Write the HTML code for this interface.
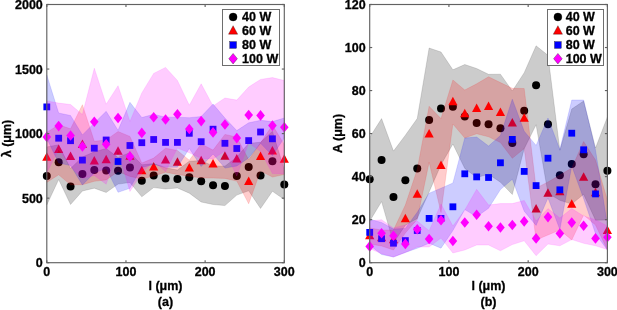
<!DOCTYPE html>
<html><head><meta charset="utf-8"><style>html,body{margin:0;padding:0;background:#fff;width:617px;height:310px;overflow:hidden}svg{display:block;will-change:transform}</style></head><body>
<svg width="617" height="310" viewBox="0 0 617 310">
<rect width="617" height="310" fill="#fff"/>
<defs><clipPath id="ca"><rect x="46.8" y="4.5" width="237.5" height="258.2"/></clipPath><clipPath id="cb"><rect x="369.7" y="4.5" width="237.7" height="258.2"/></clipPath></defs>
<g><polygon points="46.80,146.90 58.67,144.80 70.55,168.50 82.42,157.00 94.30,151.80 106.17,148.50 118.05,157.50 129.93,152.50 141.80,164.80 153.68,163.60 165.55,167.80 177.43,170.00 189.30,161.20 201.18,160.60 213.05,165.90 224.93,166.20 236.80,157.10 248.68,143.20 260.55,142.30 272.43,131.30 284.30,169.50 284.30,199.50 272.43,191.30 260.55,208.50 248.68,190.80 236.80,195.10 224.93,205.60 213.05,204.50 201.18,202.00 189.30,193.20 177.43,188.00 165.55,189.00 153.68,187.60 141.80,196.80 129.93,182.50 118.05,184.10 106.17,192.50 94.30,188.20 82.42,191.00 70.55,204.50 58.67,179.60 46.80,204.90" fill="rgb(0,0,0)" fill-opacity="0.200" stroke="rgb(0,0,0)" stroke-opacity="0.12" stroke-width="1" stroke-linejoin="round"/>
<circle cx="46.80" cy="175.90" r="4" fill="#000"/>
<circle cx="58.67" cy="162.20" r="4" fill="#000"/>
<circle cx="70.55" cy="186.50" r="4" fill="#000"/>
<circle cx="82.42" cy="174.00" r="4" fill="#000"/>
<circle cx="94.30" cy="170.00" r="4" fill="#000"/>
<circle cx="106.17" cy="170.50" r="4" fill="#000"/>
<circle cx="118.05" cy="170.80" r="4" fill="#000"/>
<circle cx="129.93" cy="167.50" r="4" fill="#000"/>
<circle cx="141.80" cy="180.80" r="4" fill="#000"/>
<circle cx="153.68" cy="175.60" r="4" fill="#000"/>
<circle cx="165.55" cy="178.40" r="4" fill="#000"/>
<circle cx="177.43" cy="179.00" r="4" fill="#000"/>
<circle cx="189.30" cy="177.20" r="4" fill="#000"/>
<circle cx="201.18" cy="181.30" r="4" fill="#000"/>
<circle cx="213.05" cy="185.20" r="4" fill="#000"/>
<circle cx="224.93" cy="185.90" r="4" fill="#000"/>
<circle cx="236.80" cy="176.10" r="4" fill="#000"/>
<circle cx="248.68" cy="167.00" r="4" fill="#000"/>
<circle cx="260.55" cy="175.40" r="4" fill="#000"/>
<circle cx="272.43" cy="161.30" r="4" fill="#000"/>
<circle cx="284.30" cy="184.50" r="4" fill="#000"/>
<polygon points="46.80,132.40 58.67,124.80 70.55,128.80 82.42,104.70 94.30,141.30 106.17,139.90 118.05,131.50 129.93,136.40 141.80,163.00 153.68,158.10 165.55,148.20 177.43,150.50 189.30,160.20 201.18,143.90 213.05,150.10 224.93,134.40 236.80,137.10 248.68,159.80 260.55,142.80 272.43,125.10 284.30,144.50 284.30,174.50 272.43,177.10 260.55,170.80 248.68,203.80 236.80,181.10 224.93,178.40 213.05,178.10 201.18,177.90 189.30,176.20 177.43,174.50 165.55,172.20 153.68,176.10 141.80,179.00 129.93,176.40 118.05,171.50 106.17,179.90 94.30,181.30 82.42,184.70 70.55,184.80 58.67,174.80 46.80,182.40" fill="rgb(255,0,0)" fill-opacity="0.200" stroke="rgb(255,0,0)" stroke-opacity="0.12" stroke-width="1" stroke-linejoin="round"/>
<polygon points="46.80,152.20 42.20,160.70 51.40,160.70" fill="#f00"/>
<polygon points="58.67,144.60 54.07,153.10 63.27,153.10" fill="#f00"/>
<polygon points="70.55,151.60 65.95,160.10 75.15,160.10" fill="#f00"/>
<polygon points="82.42,139.50 77.83,148.00 87.02,148.00" fill="#f00"/>
<polygon points="94.30,156.10 89.70,164.60 98.90,164.60" fill="#f00"/>
<polygon points="106.17,154.70 101.58,163.20 110.77,163.20" fill="#f00"/>
<polygon points="118.05,146.30 113.45,154.80 122.65,154.80" fill="#f00"/>
<polygon points="129.93,151.20 125.33,159.70 134.53,159.70" fill="#f00"/>
<polygon points="141.80,165.80 137.20,174.30 146.40,174.30" fill="#f00"/>
<polygon points="153.68,161.90 149.08,170.40 158.28,170.40" fill="#f00"/>
<polygon points="165.55,155.00 160.95,163.50 170.15,163.50" fill="#f00"/>
<polygon points="177.43,157.30 172.83,165.80 182.03,165.80" fill="#f00"/>
<polygon points="189.30,163.00 184.70,171.50 193.90,171.50" fill="#f00"/>
<polygon points="201.18,155.70 196.58,164.20 205.78,164.20" fill="#f00"/>
<polygon points="213.05,158.90 208.45,167.40 217.65,167.40" fill="#f00"/>
<polygon points="224.93,151.20 220.33,159.70 229.53,159.70" fill="#f00"/>
<polygon points="236.80,153.90 232.20,162.40 241.40,162.40" fill="#f00"/>
<polygon points="248.68,176.60 244.08,185.10 253.28,185.10" fill="#f00"/>
<polygon points="260.55,151.60 255.95,160.10 265.15,160.10" fill="#f00"/>
<polygon points="272.43,145.90 267.82,154.40 277.03,154.40" fill="#f00"/>
<polygon points="284.30,154.30 279.70,162.80 288.90,162.80" fill="#f00"/>
<polygon points="46.80,75.00 58.67,113.00 70.55,115.50 82.42,134.90 94.30,123.00 106.17,111.30 118.05,130.30 129.93,102.30 141.80,117.50 153.68,114.30 165.55,117.20 177.43,117.20 189.30,117.70 201.18,116.50 213.05,104.00 224.93,118.10 236.80,130.60 248.68,122.80 260.55,120.30 272.43,121.60 284.30,118.00 284.30,138.00 272.43,155.60 260.55,143.30 248.68,158.00 236.80,166.00 224.93,168.10 213.05,154.00 201.18,166.50 189.30,148.50 177.43,167.20 165.55,167.20 153.68,164.30 141.80,167.50 129.93,188.30 118.05,192.30 106.17,168.30 94.30,173.00 82.42,184.90 70.55,165.50 58.67,163.00 46.80,138.40" fill="rgb(0,0,255)" fill-opacity="0.200" stroke="rgb(0,0,255)" stroke-opacity="0.12" stroke-width="1" stroke-linejoin="round"/>
<rect x="43.40" y="103.50" width="6.8" height="6.8" fill="#00f"/>
<rect x="55.27" y="134.80" width="6.8" height="6.8" fill="#00f"/>
<rect x="67.15" y="137.30" width="6.8" height="6.8" fill="#00f"/>
<rect x="79.02" y="156.70" width="6.8" height="6.8" fill="#00f"/>
<rect x="90.90" y="144.80" width="6.8" height="6.8" fill="#00f"/>
<rect x="102.77" y="136.60" width="6.8" height="6.8" fill="#00f"/>
<rect x="114.65" y="158.10" width="6.8" height="6.8" fill="#00f"/>
<rect x="126.53" y="142.10" width="6.8" height="6.8" fill="#00f"/>
<rect x="138.40" y="139.30" width="6.8" height="6.8" fill="#00f"/>
<rect x="150.28" y="136.10" width="6.8" height="6.8" fill="#00f"/>
<rect x="162.15" y="139.00" width="6.8" height="6.8" fill="#00f"/>
<rect x="174.03" y="139.00" width="6.8" height="6.8" fill="#00f"/>
<rect x="185.90" y="129.90" width="6.8" height="6.8" fill="#00f"/>
<rect x="197.78" y="138.30" width="6.8" height="6.8" fill="#00f"/>
<rect x="209.65" y="125.80" width="6.8" height="6.8" fill="#00f"/>
<rect x="221.53" y="139.90" width="6.8" height="6.8" fill="#00f"/>
<rect x="233.40" y="145.10" width="6.8" height="6.8" fill="#00f"/>
<rect x="245.28" y="137.20" width="6.8" height="6.8" fill="#00f"/>
<rect x="257.15" y="128.60" width="6.8" height="6.8" fill="#00f"/>
<rect x="269.03" y="135.40" width="6.8" height="6.8" fill="#00f"/>
<polygon points="46.80,100.90 58.67,103.10 70.55,104.50 82.42,114.50 94.30,68.20 106.17,104.20 118.05,85.70 129.93,121.50 141.80,92.90 153.68,73.40 165.55,67.40 177.43,80.50 189.30,105.20 201.18,83.80 213.05,105.90 224.93,98.00 236.80,100.10 248.68,87.00 260.55,79.40 272.43,77.60 284.30,80.50 284.30,173.90 272.43,173.60 260.55,151.40 248.68,143.00 236.80,176.10 224.93,151.00 213.05,158.90 201.18,158.40 189.30,152.80 177.43,148.10 165.55,171.60 153.68,161.20 141.80,172.90 129.93,191.50 118.05,150.30 106.17,184.20 94.30,175.40 82.42,178.50 70.55,166.50 58.67,149.10 46.80,172.90" fill="rgb(255,0,255)" fill-opacity="0.200" stroke="rgb(255,0,255)" stroke-opacity="0.12" stroke-width="1" stroke-linejoin="round"/>
<polygon points="46.80,131.60 51.10,136.90 46.80,142.20 42.50,136.90" fill="#f0f"/>
<polygon points="58.67,120.80 62.97,126.10 58.67,131.40 54.38,126.10" fill="#f0f"/>
<polygon points="70.55,130.20 74.85,135.50 70.55,140.80 66.25,135.50" fill="#f0f"/>
<polygon points="82.42,141.20 86.72,146.50 82.42,151.80 78.12,146.50" fill="#f0f"/>
<polygon points="94.30,116.50 98.60,121.80 94.30,127.10 90.00,121.80" fill="#f0f"/>
<polygon points="106.17,138.90 110.47,144.20 106.17,149.50 101.88,144.20" fill="#f0f"/>
<polygon points="118.05,112.70 122.35,118.00 118.05,123.30 113.75,118.00" fill="#f0f"/>
<polygon points="129.93,151.20 134.23,156.50 129.93,161.80 125.63,156.50" fill="#f0f"/>
<polygon points="141.80,127.60 146.10,132.90 141.80,138.20 137.50,132.90" fill="#f0f"/>
<polygon points="153.68,112.00 157.98,117.30 153.68,122.60 149.38,117.30" fill="#f0f"/>
<polygon points="165.55,114.20 169.85,119.50 165.55,124.80 161.25,119.50" fill="#f0f"/>
<polygon points="177.43,109.00 181.73,114.30 177.43,119.60 173.12,114.30" fill="#f0f"/>
<polygon points="189.30,123.70 193.60,129.00 189.30,134.30 185.00,129.00" fill="#f0f"/>
<polygon points="201.18,115.80 205.48,121.10 201.18,126.40 196.88,121.10" fill="#f0f"/>
<polygon points="213.05,127.10 217.35,132.40 213.05,137.70 208.75,132.40" fill="#f0f"/>
<polygon points="224.93,119.20 229.23,124.50 224.93,129.80 220.62,124.50" fill="#f0f"/>
<polygon points="236.80,132.80 241.10,138.10 236.80,143.40 232.50,138.10" fill="#f0f"/>
<polygon points="248.68,109.70 252.98,115.00 248.68,120.30 244.38,115.00" fill="#f0f"/>
<polygon points="260.55,110.10 264.85,115.40 260.55,120.70 256.25,115.40" fill="#f0f"/>
<polygon points="272.43,120.30 276.73,125.60 272.43,130.90 268.12,125.60" fill="#f0f"/>
<polygon points="284.30,121.90 288.60,127.20 284.30,132.50 280.00,127.20" fill="#f0f"/></g>
<g><polygon points="369.70,137.20 381.58,118.60 393.47,151.10 405.36,135.20 417.24,118.50 429.12,48.00 441.01,52.00 452.89,69.80 464.78,64.50 476.66,68.50 488.55,74.30 500.43,74.20 512.32,91.00 524.20,72.70 536.09,45.80 547.98,55.30 559.86,150.30 571.75,109.00 583.63,101.00 595.51,148.00 607.40,117.00 607.40,220.00 595.51,220.20 583.63,194.30 571.75,204.10 559.86,200.30 547.98,193.30 536.09,124.80 524.20,148.70 512.32,194.50 500.43,182.20 488.55,174.30 476.66,177.50 464.78,168.50 452.89,144.00 441.01,164.80 429.12,192.00 417.24,218.50 405.36,225.20 393.47,243.10 381.58,201.60 369.70,221.20" fill="rgb(0,0,0)" fill-opacity="0.200" stroke="rgb(0,0,0)" stroke-opacity="0.12" stroke-width="1" stroke-linejoin="round"/>
<circle cx="369.70" cy="179.20" r="4" fill="#000"/>
<circle cx="381.58" cy="160.10" r="4" fill="#000"/>
<circle cx="393.47" cy="197.10" r="4" fill="#000"/>
<circle cx="405.36" cy="180.20" r="4" fill="#000"/>
<circle cx="417.24" cy="168.50" r="4" fill="#000"/>
<circle cx="429.12" cy="120.00" r="4" fill="#000"/>
<circle cx="441.01" cy="108.40" r="4" fill="#000"/>
<circle cx="452.89" cy="106.80" r="4" fill="#000"/>
<circle cx="464.78" cy="116.50" r="4" fill="#000"/>
<circle cx="476.66" cy="123.00" r="4" fill="#000"/>
<circle cx="488.55" cy="124.30" r="4" fill="#000"/>
<circle cx="500.43" cy="128.20" r="4" fill="#000"/>
<circle cx="512.32" cy="143.00" r="4" fill="#000"/>
<circle cx="524.20" cy="110.70" r="4" fill="#000"/>
<circle cx="536.09" cy="85.30" r="4" fill="#000"/>
<circle cx="547.98" cy="124.30" r="4" fill="#000"/>
<circle cx="559.86" cy="175.30" r="4" fill="#000"/>
<circle cx="571.75" cy="164.10" r="4" fill="#000"/>
<circle cx="583.63" cy="154.30" r="4" fill="#000"/>
<circle cx="595.51" cy="184.20" r="4" fill="#000"/>
<circle cx="607.40" cy="170.80" r="4" fill="#000"/>
<polygon points="369.70,228.00 381.58,230.00 393.47,230.00 405.36,205.00 417.24,169.40 429.12,106.30 441.01,118.60 452.89,80.00 464.78,90.00 476.66,83.80 488.55,76.80 500.43,82.60 512.32,88.30 524.20,88.50 536.09,188.00 547.98,182.00 559.86,175.00 571.75,168.00 583.63,141.50 595.51,160.00 607.40,200.00 607.40,250.00 595.51,225.00 583.63,215.00 571.75,240.00 559.86,230.00 547.98,235.00 536.09,240.00 524.20,148.50 512.32,158.30 500.43,142.60 488.55,136.80 476.66,133.80 464.78,138.00 452.89,124.00 441.01,212.60 429.12,162.30 417.24,219.40 405.36,233.00 393.47,250.00 381.58,246.00 369.70,244.00" fill="rgb(255,0,0)" fill-opacity="0.200" stroke="rgb(255,0,0)" stroke-opacity="0.12" stroke-width="1" stroke-linejoin="round"/>
<polygon points="369.70,230.80 365.10,239.30 374.30,239.30" fill="#f00"/>
<polygon points="381.58,232.80 376.98,241.30 386.19,241.30" fill="#f00"/>
<polygon points="393.47,234.80 388.87,243.30 398.07,243.30" fill="#f00"/>
<polygon points="405.36,213.80 400.75,222.30 409.96,222.30" fill="#f00"/>
<polygon points="417.24,189.20 412.64,197.70 421.84,197.70" fill="#f00"/>
<polygon points="429.12,129.10 424.52,137.60 433.73,137.60" fill="#f00"/>
<polygon points="441.01,160.40 436.41,168.90 445.61,168.90" fill="#f00"/>
<polygon points="452.89,96.80 448.29,105.30 457.50,105.30" fill="#f00"/>
<polygon points="464.78,108.80 460.18,117.30 469.38,117.30" fill="#f00"/>
<polygon points="476.66,103.60 472.06,112.10 481.26,112.10" fill="#f00"/>
<polygon points="488.55,101.60 483.95,110.10 493.15,110.10" fill="#f00"/>
<polygon points="500.43,107.40 495.83,115.90 505.03,115.90" fill="#f00"/>
<polygon points="512.32,118.10 507.72,126.60 516.92,126.60" fill="#f00"/>
<polygon points="524.20,113.30 519.60,121.80 528.80,121.80" fill="#f00"/>
<polygon points="536.09,204.10 531.49,212.60 540.69,212.60" fill="#f00"/>
<polygon points="547.98,188.30 543.38,196.80 552.58,196.80" fill="#f00"/>
<polygon points="559.86,186.80 555.26,195.30 564.46,195.30" fill="#f00"/>
<polygon points="571.75,199.30 567.14,207.80 576.35,207.80" fill="#f00"/>
<polygon points="583.63,172.20 579.03,180.70 588.23,180.70" fill="#f00"/>
<polygon points="595.51,187.80 590.91,196.30 600.12,196.30" fill="#f00"/>
<polygon points="607.40,225.40 602.80,233.90 612.00,233.90" fill="#f00"/>
<polygon points="369.70,219.20 381.58,222.50 393.47,229.00 405.36,228.40 417.24,212.30 429.12,193.20 441.01,188.20 452.89,183.00 464.78,138.00 476.66,137.00 488.55,146.00 500.43,135.50 512.32,99.20 524.20,131.20 536.09,145.40 547.98,118.00 559.86,149.60 571.75,100.00 583.63,100.00 595.51,150.00 607.40,225.00 607.40,250.00 595.51,233.70 583.63,198.60 571.75,166.00 559.86,229.60 547.98,198.00 536.09,225.40 524.20,211.20 512.32,179.20 500.43,189.60 488.55,208.30 476.66,216.70 464.78,209.60 452.89,230.60 441.01,248.20 429.12,243.20 417.24,248.30 405.36,252.40 393.47,257.00 381.58,254.50 369.70,245.20" fill="rgb(0,0,255)" fill-opacity="0.200" stroke="rgb(0,0,255)" stroke-opacity="0.12" stroke-width="1" stroke-linejoin="round"/>
<rect x="366.30" y="229.00" width="6.8" height="6.8" fill="#00f"/>
<rect x="378.19" y="235.30" width="6.8" height="6.8" fill="#00f"/>
<rect x="390.07" y="239.80" width="6.8" height="6.8" fill="#00f"/>
<rect x="401.96" y="237.20" width="6.8" height="6.8" fill="#00f"/>
<rect x="413.84" y="227.10" width="6.8" height="6.8" fill="#00f"/>
<rect x="425.73" y="215.00" width="6.8" height="6.8" fill="#00f"/>
<rect x="437.61" y="215.00" width="6.8" height="6.8" fill="#00f"/>
<rect x="449.50" y="203.40" width="6.8" height="6.8" fill="#00f"/>
<rect x="461.38" y="170.40" width="6.8" height="6.8" fill="#00f"/>
<rect x="473.26" y="173.50" width="6.8" height="6.8" fill="#00f"/>
<rect x="485.15" y="174.10" width="6.8" height="6.8" fill="#00f"/>
<rect x="497.03" y="159.40" width="6.8" height="6.8" fill="#00f"/>
<rect x="508.92" y="136.00" width="6.8" height="6.8" fill="#00f"/>
<rect x="520.80" y="168.00" width="6.8" height="6.8" fill="#00f"/>
<rect x="532.69" y="182.20" width="6.8" height="6.8" fill="#00f"/>
<rect x="544.58" y="154.80" width="6.8" height="6.8" fill="#00f"/>
<rect x="556.46" y="186.40" width="6.8" height="6.8" fill="#00f"/>
<rect x="568.35" y="129.80" width="6.8" height="6.8" fill="#00f"/>
<rect x="580.23" y="146.40" width="6.8" height="6.8" fill="#00f"/>
<rect x="592.12" y="190.50" width="6.8" height="6.8" fill="#00f"/>
<polygon points="369.70,221.00 381.58,219.70 393.47,228.00 405.36,225.00 417.24,221.00 429.12,230.70 441.01,204.00 452.89,226.00 464.78,210.00 476.66,189.30 488.55,205.00 500.43,203.60 512.32,203.60 524.20,200.40 536.09,221.00 547.98,208.60 559.86,218.00 571.75,208.60 583.63,216.00 595.51,219.70 607.40,226.00 607.40,249.50 595.51,245.80 583.63,243.30 571.75,239.60 559.86,245.80 547.98,244.00 536.09,255.70 524.20,240.80 512.32,244.60 500.43,250.80 488.55,245.00 476.66,245.00 464.78,250.00 452.89,253.00 441.01,238.00 429.12,247.00 417.24,247.00 405.36,252.60 393.47,257.00 381.58,253.70 369.70,248.50" fill="rgb(255,0,255)" fill-opacity="0.200" stroke="rgb(255,0,255)" stroke-opacity="0.12" stroke-width="1" stroke-linejoin="round"/>
<polygon points="369.70,241.10 374.00,246.40 369.70,251.70 365.40,246.40" fill="#f0f"/>
<polygon points="381.58,227.90 385.88,233.20 381.58,238.50 377.28,233.20" fill="#f0f"/>
<polygon points="393.47,230.40 397.77,235.70 393.47,241.00 389.17,235.70" fill="#f0f"/>
<polygon points="405.36,238.60 409.66,243.90 405.36,249.20 401.06,243.90" fill="#f0f"/>
<polygon points="417.24,224.00 421.54,229.30 417.24,234.60 412.94,229.30" fill="#f0f"/>
<polygon points="429.12,233.70 433.43,239.00 429.12,244.30 424.82,239.00" fill="#f0f"/>
<polygon points="441.01,214.90 445.31,220.20 441.01,225.50 436.71,220.20" fill="#f0f"/>
<polygon points="452.89,235.70 457.19,241.00 452.89,246.30 448.59,241.00" fill="#f0f"/>
<polygon points="464.78,217.20 469.08,222.50 464.78,227.80 460.48,222.50" fill="#f0f"/>
<polygon points="476.66,209.40 480.96,214.70 476.66,220.00 472.36,214.70" fill="#f0f"/>
<polygon points="488.55,221.00 492.85,226.30 488.55,231.60 484.25,226.30" fill="#f0f"/>
<polygon points="500.43,222.20 504.73,227.50 500.43,232.80 496.13,227.50" fill="#f0f"/>
<polygon points="512.32,219.70 516.62,225.00 512.32,230.30 508.02,225.00" fill="#f0f"/>
<polygon points="524.20,216.10 528.50,221.40 524.20,226.70 519.90,221.40" fill="#f0f"/>
<polygon points="536.09,233.10 540.39,238.40 536.09,243.70 531.79,238.40" fill="#f0f"/>
<polygon points="547.98,211.80 552.27,217.10 547.98,222.40 543.68,217.10" fill="#f0f"/>
<polygon points="559.86,228.20 564.16,233.50 559.86,238.80 555.56,233.50" fill="#f0f"/>
<polygon points="571.75,217.30 576.04,222.60 571.75,227.90 567.45,222.60" fill="#f0f"/>
<polygon points="583.63,220.50 587.93,225.80 583.63,231.10 579.33,225.80" fill="#f0f"/>
<polygon points="595.51,233.10 599.81,238.40 595.51,243.70 591.22,238.40" fill="#f0f"/>
<polygon points="607.40,231.90 611.70,237.20 607.40,242.50 603.10,237.20" fill="#f0f"/></g>
<g stroke="#626262" stroke-width="1.15" fill="none"><line x1="46.80" y1="262.70" x2="46.80" y2="260.20"/><line x1="46.80" y1="4.50" x2="46.80" y2="7.00"/><line x1="125.97" y1="262.70" x2="125.97" y2="260.20"/><line x1="125.97" y1="4.50" x2="125.97" y2="7.00"/><line x1="205.13" y1="262.70" x2="205.13" y2="260.20"/><line x1="205.13" y1="4.50" x2="205.13" y2="7.00"/><line x1="284.30" y1="262.70" x2="284.30" y2="260.20"/><line x1="284.30" y1="4.50" x2="284.30" y2="7.00"/><line x1="46.80" y1="262.70" x2="49.30" y2="262.70"/><line x1="284.30" y1="262.70" x2="281.80" y2="262.70"/><line x1="46.80" y1="198.15" x2="49.30" y2="198.15"/><line x1="284.30" y1="198.15" x2="281.80" y2="198.15"/><line x1="46.80" y1="133.60" x2="49.30" y2="133.60"/><line x1="284.30" y1="133.60" x2="281.80" y2="133.60"/><line x1="46.80" y1="69.05" x2="49.30" y2="69.05"/><line x1="284.30" y1="69.05" x2="281.80" y2="69.05"/><line x1="46.80" y1="4.50" x2="49.30" y2="4.50"/><line x1="284.30" y1="4.50" x2="281.80" y2="4.50"/><rect x="46.80" y="4.50" width="237.50" height="258.20" fill="none"/></g>
<g stroke="#626262" stroke-width="1.15" fill="none"><line x1="369.70" y1="262.70" x2="369.70" y2="260.20"/><line x1="369.70" y1="4.50" x2="369.70" y2="7.00"/><line x1="448.93" y1="262.70" x2="448.93" y2="260.20"/><line x1="448.93" y1="4.50" x2="448.93" y2="7.00"/><line x1="528.17" y1="262.70" x2="528.17" y2="260.20"/><line x1="528.17" y1="4.50" x2="528.17" y2="7.00"/><line x1="607.40" y1="262.70" x2="607.40" y2="260.20"/><line x1="607.40" y1="4.50" x2="607.40" y2="7.00"/><line x1="369.70" y1="262.70" x2="372.20" y2="262.70"/><line x1="607.40" y1="262.70" x2="604.90" y2="262.70"/><line x1="369.70" y1="219.67" x2="372.20" y2="219.67"/><line x1="607.40" y1="219.67" x2="604.90" y2="219.67"/><line x1="369.70" y1="176.63" x2="372.20" y2="176.63"/><line x1="607.40" y1="176.63" x2="604.90" y2="176.63"/><line x1="369.70" y1="133.60" x2="372.20" y2="133.60"/><line x1="607.40" y1="133.60" x2="604.90" y2="133.60"/><line x1="369.70" y1="90.57" x2="372.20" y2="90.57"/><line x1="607.40" y1="90.57" x2="604.90" y2="90.57"/><line x1="369.70" y1="47.53" x2="372.20" y2="47.53"/><line x1="607.40" y1="47.53" x2="604.90" y2="47.53"/><line x1="369.70" y1="4.50" x2="372.20" y2="4.50"/><line x1="607.40" y1="4.50" x2="604.90" y2="4.50"/><rect x="369.70" y="4.50" width="237.70" height="258.20" fill="none"/></g>
<g font-family="&quot;Liberation Sans&quot;, sans-serif" font-weight="bold" font-size="12.5" fill="#000" stroke="#000" stroke-width="0.3" opacity="0.999">
<text x="46.80" y="275.70" text-anchor="middle">0</text><text x="125.97" y="275.70" text-anchor="middle">100</text><text x="205.13" y="275.70" text-anchor="middle">200</text><text x="284.30" y="275.70" text-anchor="middle">300</text><text x="42.80" y="267.20" text-anchor="end">0</text><text x="42.80" y="202.65" text-anchor="end">500</text><text x="42.80" y="138.10" text-anchor="end">1000</text><text x="42.80" y="73.55" text-anchor="end">1500</text><text x="42.80" y="9.00" text-anchor="end">2000</text>
<text x="369.70" y="275.70" text-anchor="middle">0</text><text x="448.93" y="275.70" text-anchor="middle">100</text><text x="528.17" y="275.70" text-anchor="middle">200</text><text x="607.40" y="275.70" text-anchor="middle">300</text><text x="365.70" y="267.20" text-anchor="end">0</text><text x="365.70" y="224.17" text-anchor="end">20</text><text x="365.70" y="181.13" text-anchor="end">40</text><text x="365.70" y="138.10" text-anchor="end">60</text><text x="365.70" y="95.07" text-anchor="end">80</text><text x="365.70" y="52.03" text-anchor="end">100</text><text x="365.70" y="9.00" text-anchor="end">120</text>
<rect x="222.5" y="9.5" width="57.0" height="56.0" fill="#fff" stroke="#6e6e6e" stroke-width="1"/><circle cx="233.10" cy="17.00" r="4" fill="#000"/><text x="242.1" y="21.4">40 W</text><polygon points="233.10,25.70 228.50,34.20 237.70,34.20" fill="#f00"/><text x="242.1" y="35.3">60 W</text><rect x="229.70" y="41.60" width="6.8" height="6.8" fill="#00f"/><text x="242.1" y="49.2">80 W</text><polygon points="233.10,53.40 237.40,58.70 233.10,64.00 228.80,58.70" fill="#f0f"/><text x="242.1" y="63.1">100 W</text>
<rect x="547.5" y="9.5" width="56.0" height="56.0" fill="#fff" stroke="#6e6e6e" stroke-width="1"/><circle cx="557.90" cy="17.00" r="4" fill="#000"/><text x="565.7" y="21.4">40 W</text><polygon points="557.90,25.70 553.30,34.20 562.50,34.20" fill="#f00"/><text x="565.7" y="35.3">60 W</text><rect x="554.50" y="41.60" width="6.8" height="6.8" fill="#00f"/><text x="565.7" y="49.2">80 W</text><polygon points="557.90,53.40 562.20,58.70 557.90,64.00 553.60,58.70" fill="#f0f"/><text x="565.7" y="63.1">100 W</text>
<text x="165.5" y="289.8" text-anchor="middle">l (μm)</text>
<text x="165.5" y="306.3" text-anchor="middle">(a)</text>
<text x="488.5" y="289.8" text-anchor="middle">l (μm)</text>
<text x="488.5" y="306.3" text-anchor="middle">(b)</text>
<text transform="translate(11,138.5) rotate(-90)" text-anchor="middle">λ (μm)</text>
<text transform="translate(342,133.5) rotate(-90)" text-anchor="middle">A (μm)</text>
</g>
</svg>
</body></html>
